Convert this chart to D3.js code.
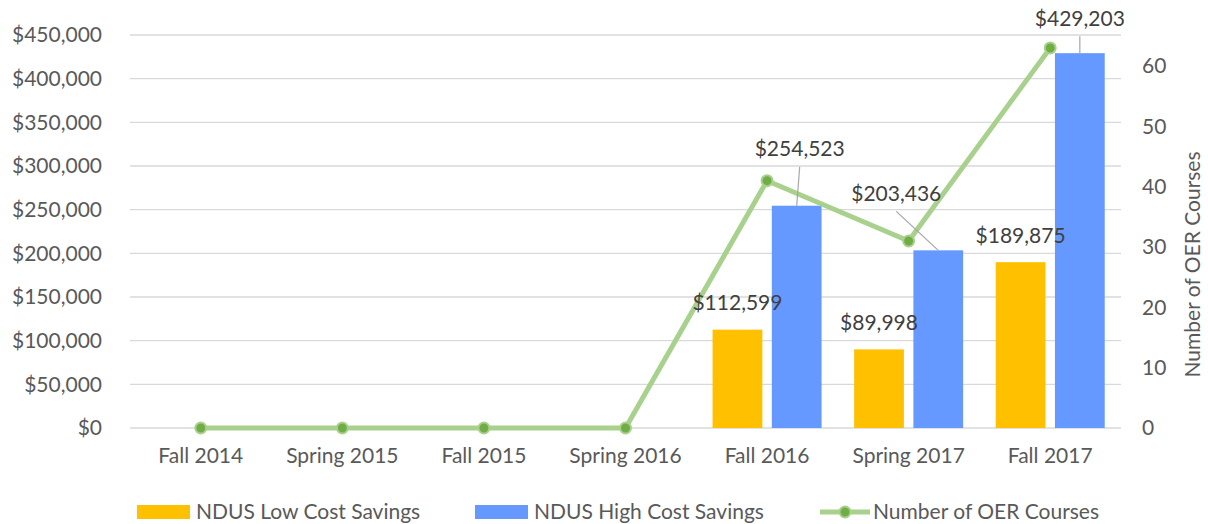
<!DOCTYPE html>
<html lang="en">
<head>
  <meta charset="UTF-8" />
  <title>NDUS OER Savings</title>
  <script src="https://d3js.org/d3.v7.min.js"></script>
  <style>
    body { margin: 0; background: #fff; overflow: hidden; }
    svg { font-family: Lato, "Open Sans", sans-serif; }
    .tick text { fill: #595959; font-size: 21px; }
    .grid line { stroke: #d9d9d9; stroke-width: 1.3px; }
    .label { fill: #404040; font-size: 21px; }
    .leader { stroke: #a6a6a6; stroke-width: 1.2px; }
  </style>
</head>
<body>
  <svg width="1208" height="524"></svg>
  <script>
    // data
    const terms = ["Fall 2014", "Spring 2015", "Fall 2015", "Spring 2016", "Fall 2016", "Spring 2017", "Fall 2017"];
    const lowCost = [null, null, null, null, 112599, 89998, 189875];
    const highCost = [null, null, null, null, 254523, 203436, 429203];
    const oerCourses = [0, 0, 0, 0, 41, 31, 63];
    const moneyTicks = [0, 50000, 100000, 150000, 200000, 250000, 300000, 350000, 400000, 450000];
    const courseTicks = [0, 10, 20, 30, 40, 50, 60];
    const seriesNames = ["NDUS Low Cost Savings", "NDUS High Cost Savings", "Number of OER Courses"];

    // label nudges for the high-cost labels (moved by hand in the original)
    const highLabelShift = [null, null, null, null, [3, -57], [-42, -57], [0, -35]];

    const width = 1208, height = 524;
    const m = { left: 130, right: 1121, top: 35, bottom: 428 };
    const svg = d3.select("svg");

    const x = d3.scaleBand().domain(terms).range([m.left, m.right]).padding(0);
    const sub = d3.scaleBand().domain([0, 1]).range([-54.5, 54.5]).paddingInner(0.16);
    const y = d3.scaleLinear().domain([0, 450000]).range([m.bottom, m.top]);
    const y2 = d3.scaleLinear().domain([0, 65.15]).range([m.bottom, m.top]);
    const money = d3.format("$,");

    // gridlines
    svg.append("g").attr("class", "grid")
      .selectAll("line").data(moneyTicks).join("line")
        .attr("x1", m.left).attr("x2", m.right)
        .attr("y1", d => y(d)).attr("y2", d => y(d));

    // left axis
    const yAxis = svg.append("g")
      .attr("transform", `translate(${m.left - 28},0)`)
      .call(d3.axisLeft(y).tickValues(moneyTicks).tickFormat(money).tickSize(0).tickPadding(0));
    yAxis.select(".domain").remove();

    // right axis
    const y2Axis = svg.append("g")
      .attr("transform", `translate(${m.right + 21},0)`)
      .call(d3.axisRight(y2).tickValues(courseTicks).tickSize(0).tickPadding(0));
    y2Axis.select(".domain").remove();

    // x axis
    const xAxis = svg.append("g")
      .attr("transform", `translate(0,${m.bottom + 20})`)
      .call(d3.axisBottom(x).tickSize(0).tickPadding(0));
    xAxis.select(".domain").remove();
    xAxis.selectAll("text").attr("dy", "0.71em");

    [yAxis, y2Axis, xAxis].forEach(a => a.attr("font-family", null).attr("font-size", null));

    svg.append("text")
      .attr("transform", `translate(1200,${(m.top + m.bottom) / 2 + 33}) rotate(-90)`)
      .attr("text-anchor", "middle")
      .style("fill", "#595959").style("font-size", "21px")
      .text("Number of OER Courses");

    // bars
    const colors = ["#ffc000", "#6699ff"];
    [lowCost, highCost].forEach((vals, s) => {
      svg.append("g").selectAll("rect")
        .data(terms.map((t, i) => ({ t, v: vals[i] })).filter(d => d.v != null))
        .join("rect")
          .attr("x", d => x(d.t) + x.bandwidth() / 2 + sub(s))
          .attr("width", sub.bandwidth())
          .attr("y", d => y(d.v))
          .attr("height", d => y(0) - y(d.v))
          .attr("fill", colors[s]);
    });

    // line
    const line = d3.line()
      .x((d, i) => x(terms[i]) + x.bandwidth() / 2)
      .y(d => y2(d));
    svg.append("path")
      .datum(oerCourses)
      .attr("d", line)
      .attr("fill", "none")
      .attr("stroke", "#a9d18e")
      .attr("stroke-width", 5)
      .attr("stroke-linejoin", "round");
    svg.append("g").selectAll("circle")
      .data(oerCourses).join("circle")
        .attr("cx", (d, i) => x(terms[i]) + x.bandwidth() / 2)
        .attr("cy", d => y2(d))
        .attr("r", 5.5)
        .attr("fill", "#70ad47")
        .attr("stroke", "#a9d18e")
        .attr("stroke-width", 2);

    // low cost labels
    svg.append("g").selectAll("text")
      .data(terms.map((t, i) => ({ t, v: lowCost[i] })).filter(d => d.v != null))
      .join("text")
        .attr("class", "label")
        .attr("x", d => x(d.t) + x.bandwidth() / 2 + sub(0) + sub.bandwidth() / 2)
        .attr("y", d => y(d.v) - 27)
        .attr("dy", "0.35em")
        .attr("text-anchor", "middle")
        .text(d => money(d.v));

    // high cost labels with leader lines
    const high = terms.map((t, i) => ({ t, v: highCost[i], s: highLabelShift[i] })).filter(d => d.v != null);
    const hx = d => x(d.t) + x.bandwidth() / 2 + sub(1) + sub.bandwidth() / 2;
    svg.append("g").selectAll("line")
      .data(high).join("line")
        .attr("class", "leader")
        .attr("x1", d => hx(d) + d.s[0]).attr("y1", d => y(d.v) + d.s[1] + 18)
        .attr("x2", d => hx(d)).attr("y2", d => y(d.v));
    svg.append("g").selectAll("text")
      .data(high).join("text")
        .attr("class", "label")
        .attr("x", d => hx(d) + d.s[0])
        .attr("y", d => y(d.v) + d.s[1])
        .attr("dy", "0.35em")
        .attr("text-anchor", "middle")
        .text(d => money(d.v));

    // legend
    const legend = svg.append("g").attr("transform", "translate(0,512)");
    const items = [
      { name: seriesNames[0], x: 137, kind: "bar", color: colors[0] },
      { name: seriesNames[1], x: 475, kind: "bar", color: colors[1] },
      { name: seriesNames[2], x: 820, kind: "line" }
    ];
    items.forEach(it => {
      const g = legend.append("g").attr("transform", `translate(${it.x},0)`);
      if (it.kind === "bar") {
        g.append("rect").attr("x", 0).attr("y", -7).attr("width", 53).attr("height", 14).attr("fill", it.color);
      } else {
        g.append("line").attr("x1", 0).attr("x2", 50).attr("y1", 0).attr("y2", 0)
          .attr("stroke", "#a9d18e").attr("stroke-width", 5);
        g.append("circle").attr("cx", 25).attr("cy", 0).attr("r", 5.5)
          .attr("fill", "#70ad47").attr("stroke", "#a9d18e").attr("stroke-width", 2);
      }
      g.append("text")
        .attr("x", it.kind === "bar" ? 59 : 53)
        .attr("dy", "0.35em")
        .style("fill", "#595959").style("font-size", "21px")
        .text(it.name);
    });
  </script>
</body>
</html>
